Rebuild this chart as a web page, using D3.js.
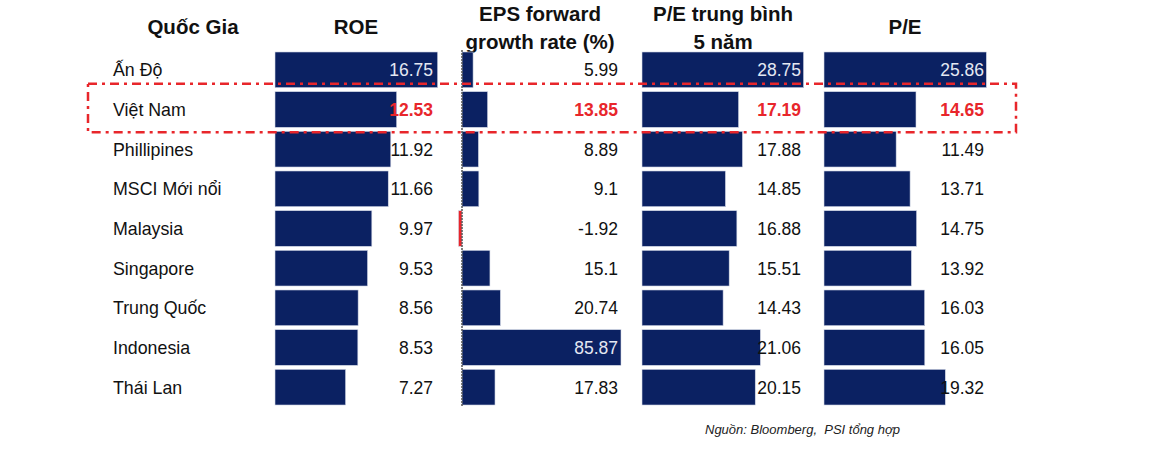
<!DOCTYPE html>
<html><head><meta charset="utf-8">
<script src="https://cdn.jsdelivr.net/npm/d3@7"></script>
<style>body{margin:0;background:#fff}svg{display:block}</style>
</head><body><div id="c"></div>
<script>
const countries = ["Ấn Độ","Việt Nam","Phillipines","MSCI Mới nổi","Malaysia","Singapore","Trung Quốc","Indonesia","Thái Lan"];
const roe = [16.75,12.53,11.92,11.66,9.97,9.53,8.56,8.53,7.27];
const epsGrowth = [5.99,13.85,8.89,9.1,-1.92,15.1,20.74,85.87,17.83];
const pe5y = [28.75,17.19,17.88,14.85,16.88,15.51,14.43,21.06,20.15];
const pe = [25.86,14.65,11.49,13.71,14.75,13.92,16.03,16.05,19.32];
const epsLabels = ["5.99","13.85","8.89","9.1","-1.92","15.1","20.74","85.87","17.83"];
const headers = [["Quốc Gia"],["ROE"],["EPS forward","growth rate (%)"],["P/E trung bình","5 năm"],["P/E"]];
const highlight = "Việt Nam";
const source = "Nguồn: Bloomberg,  PSI tổng hợp";

const W=1170,H=454;
const svg=d3.select("#c").append("svg").attr("width",W).attr("height",H);
const font="Liberation Sans, Arial, sans-serif";
const navy="#0b2162", red="#e8262b";

const y=d3.scaleBand().domain(countries).range([50,407]).paddingInner(0.1).paddingOuter(0.05);

const cols=[
 {data:roe, labels:roe.map(String), x0:275, w:162.7, labelX:433, headerX:356},
 {data:epsGrowth, labels:epsLabels, x0:462, w:159, labelX:618, headerX:540, axis:true},
 {data:pe5y, labels:pe5y.map(String), x0:642, w:161.6, labelX:801, headerX:723},
 {data:pe, labels:pe.map(String), x0:824, w:162.4, labelX:984, headerX:905}
];

// headers
const hx=[193].concat(cols.map(c=>c.headerX));
headers.forEach((h,i)=>{
  const t=svg.append("text").attr("x",hx[i]).attr("text-anchor","middle")
   .attr("font-family",font).attr("font-weight","bold").attr("font-size",20.5).attr("fill","#111");
  if(h.length===1){ t.attr("y",34).text(h[0]); }
  else { h.forEach((s,j)=>t.append("tspan").attr("x",hx[i]).attr("y",21+j*28).text(s)); }
});

// country labels
svg.selectAll("text.cty").data(countries).join("text").attr("class","cty")
 .attr("x",113).attr("y",d=>y(d)+y.bandwidth()/2+6.5)
 .attr("font-family",font).attr("font-size",17.8).attr("fill","#111").text(d=>d);

cols.forEach(c=>{
  const mx=d3.max(c.data);
  const x=d3.scaleLinear().domain([0,mx]).range([c.x0,c.x0+c.w]);
  const g=svg.append("g");
  g.selectAll("rect").data(c.data).join("rect")
   .attr("x",d=>x(Math.min(0,d))).attr("width",d=>Math.abs(x(d)-x(0)))
   .attr("y",(d,i)=>y(countries[i])).attr("height",y.bandwidth())
   .attr("fill",d=>d<0?red:navy).attr("stroke","#d6dbe8").attr("stroke-width",0.6);
  if(c.axis){
    g.append("line").attr("x1",x(0)).attr("x2",x(0)).attr("y1",50).attr("y2",407)
     .attr("stroke","#555").attr("stroke-width",1.5).attr("stroke-dasharray","2,1");
  }
  g.selectAll("text").data(c.data).join("text")
   .attr("x",c.labelX).attr("y",(d,i)=>y(countries[i])+y.bandwidth()/2+6.5)
   .attr("text-anchor","end").attr("font-family",font).attr("font-size",17.5)
   .attr("font-weight",(d,i)=>countries[i]===highlight?"bold":"normal")
   .attr("fill",(d,i)=>countries[i]===highlight?red:(d===mx?"#e4e8f2":"#111"))
   .text((d,i)=>c.labels[i]);
});

// highlight box
const hy=y(highlight);
svg.append("rect").attr("x",88).attr("y",hy-8).attr("width",928).attr("height",y.step()+9)
 .attr("fill","none").attr("stroke",red).attr("stroke-width",2.5)
 .attr("stroke-dasharray","9,5,3,5");

svg.append("text").attr("x",705).attr("y",434).attr("font-family",font)
 .attr("font-style","italic").attr("font-size",13).attr("fill","#222")
 .attr("xml:space","preserve").style("white-space","pre").text(source);
</script></body></html>
